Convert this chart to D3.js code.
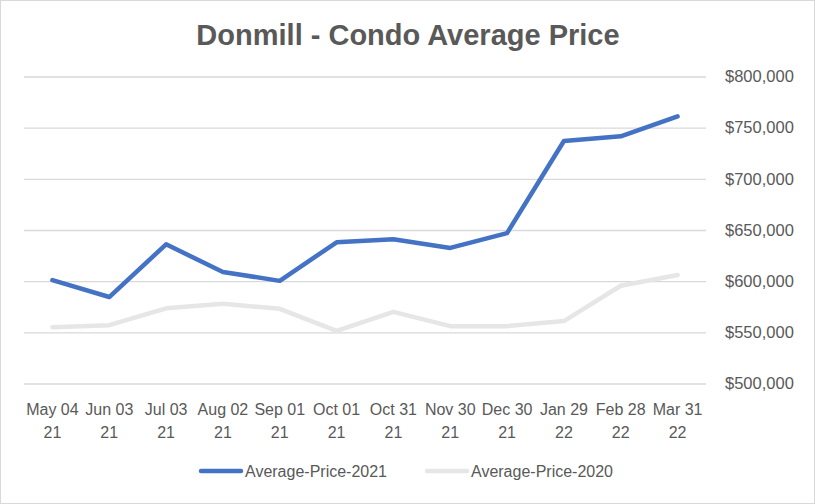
<!DOCTYPE html>
<html>
<head>
<meta charset="utf-8">
<script src="https://cdn.jsdelivr.net/npm/d3@7"></script>
<style>
  body { margin: 0; background: #fff; }
  svg { display: block; }
  text { font-family: "Liberation Sans", Arial, sans-serif; fill: #595959; }
</style>
</head>
<body>
<svg id="chart" width="815" height="504"></svg>
<script>
// --- Data ---
const dates = ["May 04 21", "Jun 03 21", "Jul 03 21", "Aug 02 21", "Sep 01 21", "Oct 01 21",
               "Oct 31 21", "Nov 30 21", "Dec 30 21", "Jan 29 22", "Feb 28 22", "Mar 31 22"];
const price2021 = [601000, 584500, 636000, 609000, 600300, 638000, 641000, 632500, 647000, 737000, 741500, 761000];
const price2020 = [555000, 557000, 573500, 578000, 573000, 551500, 570000, 556000, 556000, 561000, 595500, 606000];
const yTicks = [500000, 550000, 600000, 650000, 700000, 750000, 800000];

const seriesNames = ["Average-Price-2021", "Average-Price-2020"];
const seriesColors = ["#4472C4", "#E7E6E6"];

// --- Layout ---
const svg = d3.select("#chart");
const W = 815, H = 504;
const plot = { left: 24, right: 706, top: 76.5, bottom: 383.5 };

svg.append("rect")
  .attr("x", 0.5).attr("y", 0.5)
  .attr("width", W - 1).attr("height", H - 1)
  .attr("fill", "#fff").attr("stroke", "#d9d9d9");

svg.append("text")
  .attr("x", 408).attr("y", 45)
  .attr("text-anchor", "middle")
  .style("font-size", "29px").style("font-weight", "bold")
  .text("Donmill - Condo Average Price");

const x = d3.scaleBand().domain(dates).range([plot.left, plot.right]);
const y = d3.scaleLinear().domain([500000, 800000]).range([plot.bottom, plot.top]);

// gridlines + right-side labels
const yAxis = svg.append("g")
  .attr("transform", `translate(${plot.right},0)`)
  .call(d3.axisRight(y).tickValues(yTicks)
    .tickSize(-(plot.right - plot.left))
    .tickPadding(19)
    .tickFormat(d => "$" + d3.format(",")(d)));
yAxis.select(".domain").remove();
yAxis.selectAll(".tick line").attr("stroke", "#d9d9d9").attr("stroke-width", 1.3);
yAxis.selectAll(".tick text").style("font-size", "16.5px").attr("fill", "#595959");

// x labels (two lines)
const xAxis = svg.append("g")
  .attr("transform", `translate(0,${plot.bottom})`)
  .call(d3.axisBottom(x).tickSize(0).tickFormat(""));
xAxis.select(".domain").remove();
xAxis.selectAll(".tick").each(function(d) {
  const parts = d.split(" ");
  const t = d3.select(this).append("text")
    .attr("text-anchor", "middle")
    .style("font-size", "16px")
    .attr("fill", "#595959");
  t.append("tspan").attr("x", 0).attr("y", 31).text(parts[0] + " " + parts[1]);
  t.append("tspan").attr("x", 0).attr("y", 54).text(parts[2]);
});

// lines (2020 drawn first, underneath)
const line = d3.line()
  .x((d, i) => x(dates[i]) + x.bandwidth() / 2)
  .y(d => y(d));

[[price2020, 1], [price2021, 0]].forEach(([vals, idx]) => {
  svg.append("path")
    .datum(vals)
    .attr("fill", "none")
    .attr("stroke", seriesColors[idx])
    .attr("stroke-width", 4.5)
    .attr("stroke-linejoin", "round")
    .attr("stroke-linecap", "round")
    .attr("d", line);
});

// legend
const legendX = [199, 425];
const legend = svg.append("g");
seriesNames.forEach((name, i) => {
  const g = legend.append("g").attr("transform", `translate(${legendX[i]},471)`);
  g.append("line")
    .attr("x1", 2).attr("x2", 42)
    .attr("stroke", seriesColors[i]).attr("stroke-width", 4.5)
    .attr("stroke-linecap", "round");
  g.append("text")
    .attr("x", 46).attr("y", 6)
    .style("font-size", "16px")
    .text(name);
});
</script>
</body>
</html>
